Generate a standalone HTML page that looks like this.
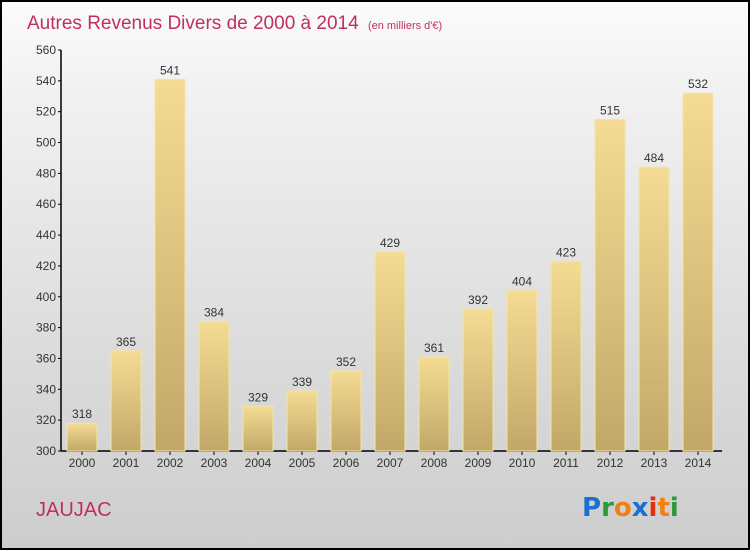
<!DOCTYPE html>
<html><head><meta charset="utf-8"><style>
body{margin:0;width:750px;height:550px;overflow:hidden;font-family:"Liberation Sans",sans-serif}
#wrap{position:absolute;left:0;top:0;width:746px;height:546px;border:2px solid #000;background:linear-gradient(#fbfbfb,#f2f2f2 15%,#d9d9d9 70%,#cdcdcd)}
</style></head><body>
<div id="wrap">
<svg width="746" height="546" viewBox="2 2 746 546" id="svg">
<defs><linearGradient id="bg" x1="0" y1="0" x2="0" y2="1"><stop offset="0" stop-color="#f4dc94"/><stop offset="1" stop-color="#c2a868"/></linearGradient></defs>
<text x="27" y="29" font-size="19" fill="#c0305f">Autres Revenus Divers de 2000 à 2014 <tspan font-size="11" dx="4">(en milliers d'€)</tspan></text>
<text x="36" y="516" font-size="20" fill="#c0305f">JAUJAC</text>
<g font-size="26" font-weight="bold" font-family="'DejaVu Sans',sans-serif">
<text x="582" y="516"><tspan fill="#1a6fcf">P</tspan><tspan fill="#2a9a3a">r</tspan><tspan fill="#f08010">o</tspan><tspan fill="#1a6fcf">x</tspan><tspan fill="#e03010">i</tspan><tspan fill="#f08010">t</tspan><tspan fill="#2a9a3a">i</tspan></text></g>
<g id="axes"></g><g id="bars"></g>
</svg></div>
<script>
const years=["2000","2001","2002","2003","2004","2005","2006","2007","2008","2009","2010","2011","2012","2013","2014"];
const values=[318,365,541,384,329,339,352,429,361,392,404,423,515,484,532];
const yTicks=[300,320,340,360,380,400,420,440,460,480,500,520,540,560];
const NS="http://www.w3.org/2000/svg";
const y=v=>451-(v-300)*(401/260);
const x=i=>82+i*44;
function el(t,a,p){const e=document.createElementNS(NS,t);for(const k in a)e.setAttribute(k,a[k]);p.appendChild(e);return e;}
const ax=document.getElementById('axes'),bg=document.getElementById('bars');
const yl=el('line',{x1:61,x2:61,y1:50,y2:451,stroke:'#000','stroke-width':1.5},ax);


const xl=el('line',{x1:61,x2:722,y1:451,y2:451,stroke:'#000','stroke-width':1.5},ax);


yTicks.forEach(v=>{
 el('line',{x1:58,x2:61,y1:y(v),y2:y(v),stroke:'#000'},ax);
 const t=el('text',{x:56,y:y(v)+4,'text-anchor':'end','font-size':12,fill:'#333'},ax);t.textContent=v;
 
 
});
years.forEach((yr,i)=>{
 const r=el('rect',{x:x(i)-15,y:y(values[i]),width:30,height:451-y(values[i]),fill:'url(#bg)',stroke:'#f6e3a6','stroke-width':1},bg);
 
 
 const v=el('text',{x:x(i),y:y(values[i])-5,'text-anchor':'middle','font-size':12,fill:'#333'},bg);v.textContent=values[i];
 
 
 el('line',{x1:x(i),x2:x(i),y1:451,y2:455,stroke:'#000'},ax);
 const t=el('text',{x:x(i),y:467,'text-anchor':'middle','font-size':12,fill:'#333'},ax);t.textContent=yr;
 
 
});
</script>
</body></html>
